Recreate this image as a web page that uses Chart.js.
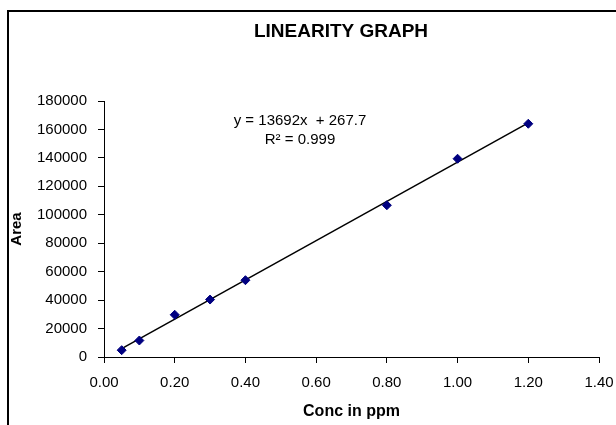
<!DOCTYPE html>
<html>
<head>
<meta charset="utf-8">
<script src="https://cdn.jsdelivr.net/npm/chart.js@4/dist/chart.umd.min.js"></script>
<style>
  html, body { margin: 0; padding: 0; background: #fff; }
  #wrap { width: 616px; height: 425px; position: relative; }
</style>
</head>
<body>
<div id="wrap"><canvas id="c" width="616" height="425"></canvas></div>
<script>
// ---- data ----
const chartTitle = 'LINEARITY GRAPH';
const xAxisTitle = 'Conc in ppm';
const yAxisTitle = 'Area';
const concentrations = [0.05, 0.1, 0.2, 0.3, 0.4, 0.8, 1.0, 1.2];
const areas = [4800, 11600, 29700, 40400, 54000, 106700, 139400, 164000];
const equationLines = ['y = 13692x  + 267.7', 'R\u00B2 = 0.999'];
const xTickLabels = ['0.00', '0.20', '0.40', '0.60', '0.80', '1.00', '1.20', '1.40'];
const yTickLabels = ['0', '20000', '40000', '60000', '80000', '100000', '120000', '140000', '160000', '180000'];

// least-squares trend line through the measured points
function linearFit(xs, ys) {
  const n = xs.length;
  const mx = xs.reduce((a, b) => a + b, 0) / n;
  const my = ys.reduce((a, b) => a + b, 0) / n;
  let sxy = 0, sxx = 0;
  for (let i = 0; i < n; i++) { sxy += (xs[i] - mx) * (ys[i] - my); sxx += (xs[i] - mx) ** 2; }
  const m = sxy / sxx;
  return { m, b: my - m * mx };
}
const fit = linearFit(concentrations, areas);
const xFirst = concentrations[0], xLast = concentrations[concentrations.length - 1];
const trendPoints = [
  { x: xFirst, y: fit.m * xFirst + fit.b },
  { x: xLast, y: fit.m * xLast + fit.b }
];
const points = concentrations.map((x, i) => ({ x, y: areas[i] }));

const FONT = "'Liberation Sans', Arial, sans-serif";

const decor = {
  id: 'decor',
  beforeDraw(chart) {
    const ctx = chart.ctx;
    ctx.save();
    ctx.fillStyle = '#fff';
    ctx.fillRect(0, 0, chart.width, chart.height);
    ctx.strokeStyle = '#000';
    ctx.lineWidth = 2;
    ctx.beginPath();
    ctx.moveTo(8, chart.height + 5);
    ctx.lineTo(8, 11);
    ctx.lineTo(chart.width + 5, 11);
    ctx.stroke();
    ctx.restore();
  },
  afterDraw(chart) {
    const ctx = chart.ctx;
    ctx.save();
    ctx.fillStyle = '#000';
    ctx.textAlign = 'center';
    ctx.textBaseline = 'alphabetic';
    ctx.font = 'bold 19px ' + FONT;
    ctx.fillText(chartTitle, 341, 37);
    ctx.font = '15px ' + FONT;
    ctx.fillText(equationLines[0], 300, 125);
    ctx.fillText(equationLines[1], 300, 144);
    ctx.restore();
  }
};

new Chart(document.getElementById('c'), {
  type: 'scatter',
  data: {
    datasets: [
      {
        label: 'Area',
        data: points,
        pointStyle: 'rectRot',
        pointRadius: 4.5,
        pointHoverRadius: 4.5,
        backgroundColor: '#000080',
        borderColor: '#000080',
        borderWidth: 1,
        order: 1
      },
      {
        label: 'Linear',
        type: 'line',
        data: trendPoints,
        borderColor: '#000',
        borderWidth: 1.5,
        pointRadius: 0,
        fill: false,
        order: 2
      }
    ]
  },
  options: {
    responsive: false,
    animation: false,
    events: [],
    layout: { padding: { left: 0, top: 101, right: 17, bottom: 0 } },
    plugins: {
      legend: { display: false },
      title: { display: false },
      tooltip: { enabled: false }
    },
    scales: {
      x: {
        type: 'linear',
        min: 0,
        max: 1.4,
        afterFit(s) { s.height = 68; s.paddingRight = 0; },
        afterBuildTicks(s) { s.ticks = xTickLabels.map((t, i) => ({ value: i * 0.2 })); },
        ticks: {
          color: '#000',
          font: { family: FONT, size: 15 },
          padding: 11,
          maxRotation: 0,
          autoSkip: false,
          callback: (v, i) => xTickLabels[i]
        },
        grid: { display: true, drawOnChartArea: false, drawTicks: true, tickLength: 6, color: '#000', tickColor: '#000' },
        border: { display: true, color: '#000', width: 1 },
        title: {
          display: true,
          text: xAxisTitle,
          color: '#000',
          font: { family: FONT, size: 16, weight: 'bold' },
          padding: { top: 0, bottom: 4 }
        }
      },
      y: {
        type: 'linear',
        min: 0,
        max: 180000,
        afterFit(s) { s.width = 104; },
        afterBuildTicks(s) { s.ticks = yTickLabels.map((t, i) => ({ value: i * 20000 })); },
        ticks: {
          color: '#000',
          font: { family: FONT, size: 15 },
          padding: 11,
          autoSkip: false,
          callback: (v, i) => yTickLabels[i]
        },
        grid: { display: true, drawOnChartArea: false, drawTicks: true, tickLength: 6, color: '#000', tickColor: '#000' },
        border: { display: true, color: '#000', width: 1 },
        title: {
          display: true,
          text: yAxisTitle,
          color: '#000',
          font: { family: FONT, size: 15, weight: 'bold' },
          padding: { top: 8, bottom: 0 }
        }
      }
    }
  },
  plugins: [decor]
});
</script>
</body>
</html>
